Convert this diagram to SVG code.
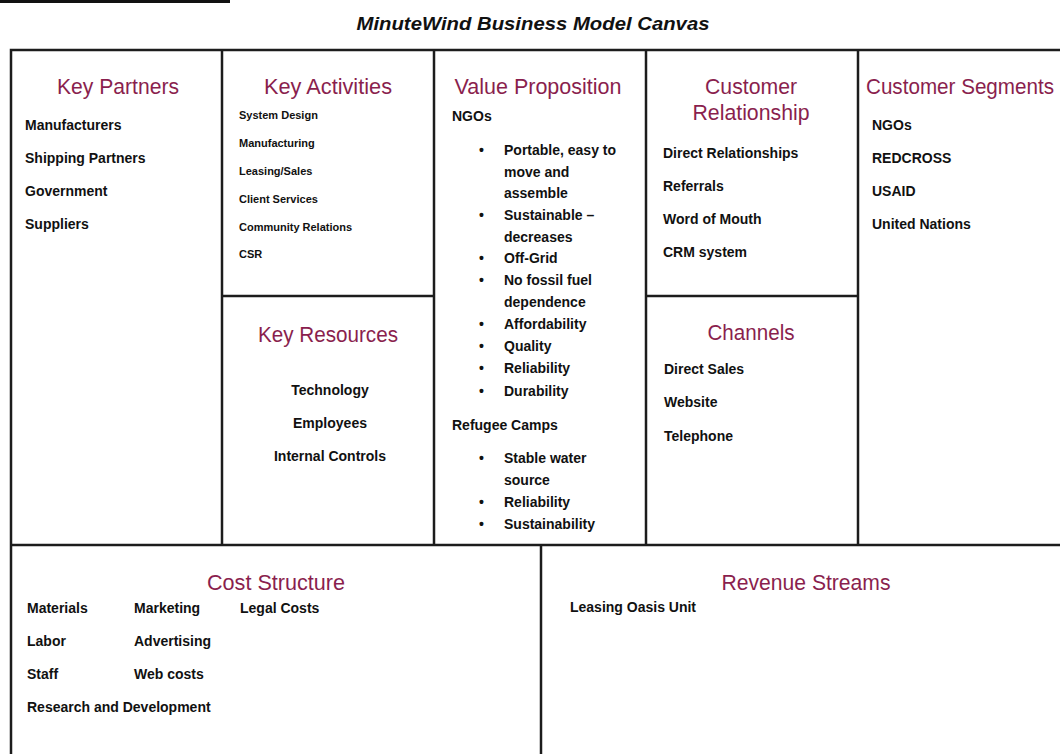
<svg xmlns="http://www.w3.org/2000/svg" width="1060" height="754" viewBox="0 0 1060 754">
  <style>
    .frame { fill: none; stroke: #1c1c1c; stroke-width: 2.5; }
    .rule { stroke: #1c1c1c; stroke-width: 2.5; }
    .title { font-family: "Liberation Sans", Arial, sans-serif; font-weight: bold; font-style: italic; font-size: 19px; fill: #111; }
    .head { font-family: "Liberation Sans", Arial, sans-serif; font-size: 22px; fill: #8a1f4e; text-anchor: middle; }
    .item { font-family: "Liberation Sans", Arial, sans-serif; font-weight: bold; font-size: 14px; fill: #111; }
    .small { font-family: "Liberation Sans", Arial, sans-serif; font-weight: bold; font-size: 11px; fill: #111; }
    .mid { text-anchor: middle; }
  </style>

  <rect x="0" y="0" width="1060" height="754" fill="#ffffff"/>

  <!-- short rule at the top left -->
  <line x1="0" y1="1.5" x2="230" y2="1.5" stroke="#111" stroke-width="3"/>

  <text class="title" x="533" y="30" text-anchor="middle" textLength="353" lengthAdjust="spacingAndGlyphs">MinuteWind Business Model Canvas</text>

  <!-- canvas grid -->
  <g id="grid">
    <rect class="frame" x="11" y="50" width="1100" height="760"/>
    <line class="rule" x1="222" y1="50" x2="222" y2="545"/>
    <line class="rule" x1="434" y1="50" x2="434" y2="545"/>
    <line class="rule" x1="646" y1="50" x2="646" y2="545"/>
    <line class="rule" x1="858" y1="50" x2="858" y2="545"/>
    <line class="rule" x1="11" y1="545" x2="1060" y2="545"/>
    <line class="rule" x1="222" y1="296" x2="434" y2="296"/>
    <line class="rule" x1="646" y1="296" x2="858" y2="296"/>
    <line class="rule" x1="541" y1="545" x2="541" y2="754"/>
  </g>

  <g id="key-partners">
    <text class="head" x="118" y="94" textLength="122" lengthAdjust="spacingAndGlyphs">Key Partners</text>
    <text class="item" x="25" y="130">Manufacturers</text>
    <text class="item" x="25" y="163">Shipping Partners</text>
    <text class="item" x="25" y="196">Government</text>
    <text class="item" x="25" y="229">Suppliers</text>
  </g>

  <g id="key-activities">
    <text class="head" x="328" y="94" textLength="128" lengthAdjust="spacingAndGlyphs">Key Activities</text>
    <text class="small" x="239" y="119">System Design</text>
    <text class="small" x="239" y="147">Manufacturing</text>
    <text class="small" x="239" y="175">Leasing/Sales</text>
    <text class="small" x="239" y="203">Client Services</text>
    <text class="small" x="239" y="231">Community Relations</text>
    <text class="small" x="239" y="258">CSR</text>
  </g>

  <g id="key-resources">
    <text class="head" x="328" y="342" textLength="140" lengthAdjust="spacingAndGlyphs">Key Resources</text>
    <text class="item mid" x="330" y="395">Technology</text>
    <text class="item mid" x="330" y="428">Employees</text>
    <text class="item mid" x="330" y="461">Internal Controls</text>
  </g>

  <g id="value-proposition">
    <text class="head" x="538" y="94" textLength="167" lengthAdjust="spacingAndGlyphs">Value Proposition</text>
    <text class="item" x="452" y="121">NGOs</text>
    <g class="item">
      <text x="479" y="155">•</text><text x="504" y="155">Portable, easy to</text>
      <text x="504" y="177">move and</text>
      <text x="504" y="198">assemble</text>
      <text x="479" y="220">•</text><text x="504" y="220">Sustainable –</text>
      <text x="504" y="242">decreases</text>
      <text x="479" y="263">•</text><text x="504" y="263">Off-Grid</text>
      <text x="479" y="285">•</text><text x="504" y="285">No fossil fuel</text>
      <text x="504" y="307">dependence</text>
      <text x="479" y="329">•</text><text x="504" y="329">Affordability</text>
      <text x="479" y="351">•</text><text x="504" y="351">Quality</text>
      <text x="479" y="373">•</text><text x="504" y="373">Reliability</text>
      <text x="479" y="396">•</text><text x="504" y="396">Durability</text>
    </g>
    <text class="item" x="452" y="430">Refugee Camps</text>
    <g class="item">
      <text x="479" y="463">•</text><text x="504" y="463">Stable water</text>
      <text x="504" y="485">source</text>
      <text x="479" y="507">•</text><text x="504" y="507">Reliability</text>
      <text x="479" y="529">•</text><text x="504" y="529">Sustainability</text>
    </g>
  </g>

  <g id="customer-relationship">
    <text class="head" x="751" y="94" textLength="92" lengthAdjust="spacingAndGlyphs">Customer</text>
    <text class="head" x="751" y="120" textLength="117" lengthAdjust="spacingAndGlyphs">Relationship</text>
    <text class="item" x="663" y="158">Direct Relationships</text>
    <text class="item" x="663" y="191">Referrals</text>
    <text class="item" x="663" y="224">Word of Mouth</text>
    <text class="item" x="663" y="257">CRM system</text>
  </g>

  <g id="channels">
    <text class="head" x="751" y="340" textLength="87" lengthAdjust="spacingAndGlyphs">Channels</text>
    <text class="item" x="664" y="374">Direct Sales</text>
    <text class="item" x="664" y="407">Website</text>
    <text class="item" x="664" y="441">Telephone</text>
  </g>

  <g id="customer-segments">
    <text class="head" x="960" y="94" textLength="188" lengthAdjust="spacingAndGlyphs">Customer Segments</text>
    <text class="item" x="872" y="130">NGOs</text>
    <text class="item" x="872" y="163">REDCROSS</text>
    <text class="item" x="872" y="196">USAID</text>
    <text class="item" x="872" y="229">United Nations</text>
  </g>

  <g id="cost-structure">
    <text class="head" x="276" y="590" textLength="138" lengthAdjust="spacingAndGlyphs">Cost Structure</text>
    <text class="item" x="27" y="613">Materials</text>
    <text class="item" x="27" y="646">Labor</text>
    <text class="item" x="27" y="679">Staff</text>
    <text class="item" x="27" y="712">Research and Development</text>
    <text class="item" x="134" y="613">Marketing</text>
    <text class="item" x="134" y="646">Advertising</text>
    <text class="item" x="134" y="679">Web costs</text>
    <text class="item" x="240" y="613">Legal Costs</text>
  </g>

  <g id="revenue-streams">
    <text class="head" x="806" y="590" textLength="169" lengthAdjust="spacingAndGlyphs">Revenue Streams</text>
    <text class="item" x="570" y="612">Leasing Oasis Unit</text>
  </g>
</svg>
